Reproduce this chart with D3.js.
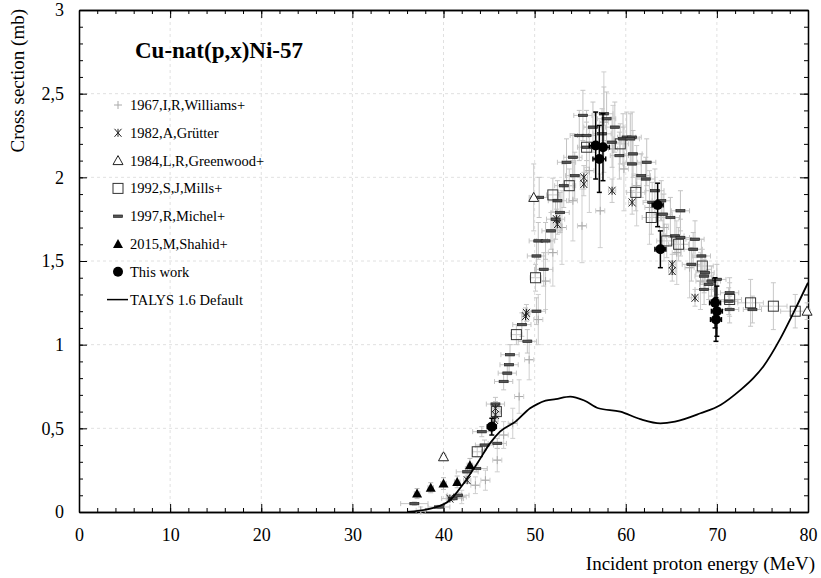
<!DOCTYPE html>
<html><head><meta charset="utf-8">
<script src="https://cdn.jsdelivr.net/npm/d3@7"></script>
<style>body{margin:0;background:#fff}svg{display:block}text{font-family:"Liberation Serif","Times New Roman",serif}</style>
</head><body><svg id="c" width="821" height="578"></svg>
<script>
// ---------- DATA ----------
const xTicks = [0,10,20,30,40,50,60,70,80];
const yTicks = [0,0.5,1,1.5,2,2.5,3];
const legendLabels = ["1967,I,R,Williams+","1982,A,Grütter","1984,L,R,Greenwood+","1992,S,J,Mills+","1997,R,Michel+","2015,M,Shahid+","This work","TALYS 1.6 Default"];
// TALYS curve
const talysE = [36,38.9,40.7,42.2,43.7,45.1,46.2,47.9,49.5,50.3,51.2,52.3,53.9,55.5,57,59.4,61.6,63.8,65.4,68.2,70.4,72.6,74,75.1,76.9,78.4,80];
const talysV = [0,0.024,0.07,0.17,0.29,0.41,0.48,0.54,0.62,0.645,0.665,0.675,0.69,0.665,0.62,0.60,0.555,0.53,0.54,0.59,0.64,0.73,0.80,0.87,1.03,1.19,1.37];
// [E, sigma, dE, dSigma]
const williams = [[37.5,0.01,0.5,0.02],[42.0,0.09,0.5,0.04],[43.5,0.16,0.5,0.05],[44.6,0.19,0.5,0.06],[45.9,0.31,0.5,0.07],[46.6,0.46,0.5,0.08],[47.6,0.53,0.5,0.09],[48.3,0.69,0.5,0.1],[49.4,0.91,0.5,0.12],[50.4,1.15,0.5,0.15],[51.2,1.38,0.5,0.17],[52.0,1.55,0.5,0.2],[53.0,1.70,0.5,0.22],[54.2,1.86,0.5,0.24],[55.2,1.71,0.5,0.22],[56.0,2.04,0.5,0.25],[57.2,1.80,0.5,0.22],[57.6,2.33,0.5,0.3],[58.6,2.17,0.5,0.26],[59.8,2.05,0.5,0.25],[61.2,1.95,0.5,0.24],[62.6,1.82,0.5,0.22],[64.2,1.70,0.5,0.2],[65.6,1.55,0.5,0.19],[67.0,1.46,0.5,0.18],[68.2,1.38,0.5,0.17]];
const grutter = [[40.7,0.08,0.4,0.01],[42.6,0.19,0.4,0.02],[45.6,0.55,0.4,0.04],[45.7,0.58,0.4,0.04],[45.7,0.62,0.4,0.04],[49.0,1.17,0.4,0.05],[49.1,1.19,0.4,0.05],[52.4,1.75,0.4,0.06],[52.5,1.72,0.4,0.06],[55.4,1.96,0.4,0.07],[55.4,2.00,0.4,0.07],[58.5,1.92,0.4,0.07],[60.7,1.85,0.4,0.07],[65.1,1.44,0.4,0.06],[65.1,1.48,0.4,0.06],[67.6,1.28,0.4,0.05]];
const greenwood = [[40.0,0.33,0.3,0.02],[49.9,1.88,0.5,0.2],[79.9,1.20,0.3,0.05]];
const mills = [[43.7,0.36,0.5,0.03],[45.8,0.60,0.5,0.04],[48.0,1.06,0.6,0.06],[50.1,1.40,0.6,0.08],[52.0,1.895,0.7,0.1],[53.8,1.95,0.7,0.1],[55.7,2.18,0.8,0.12],[59.4,2.20,0.9,0.12],[61.1,1.91,1.0,0.11],[62.8,1.76,1.0,0.1],[64.5,1.62,1.1,0.1],[65.8,1.60,1.1,0.1],[68.4,1.47,1.2,0.1],[71.4,1.27,1.3,0.1],[73.7,1.25,1.4,0.14],[76.2,1.23,1.5,0.14],[78.6,1.20,1.6,0.1]];
const michel = [[36.8,0.05,1.5,0.01],[39.5,0.03,1.2,0.01],[41.0,0.08,1.2,0.01],[41.6,0.10,1.2,0.015],[42.6,0.24,1.2,0.02],[43.6,0.26,1.2,0.02],[44.2,0.48,1.0,0.03],[44.5,0.40,1.0,0.03],[45.9,0.41,1.0,0.03],[45.7,0.645,1.0,0.04],[46.6,0.78,1.0,0.05],[47.0,0.83,1.0,0.05],[47.2,0.88,1.0,0.06],[47.3,0.94,1.0,0.06],[48.6,1.12,1.0,0.07],[49.2,1.02,1.0,0.07],[50.2,1.20,1.0,0.08],[51.0,1.45,1.0,0.1],[50.2,1.53,1.0,0.1],[50.4,1.62,1.0,0.11],[51.2,1.62,1.0,0.11],[51.8,1.68,1.0,0.11],[52.3,1.75,1.0,0.12],[52.8,1.79,1.0,0.12],[53.2,1.95,1.0,0.13],[50.5,1.88,1.0,0.12],[52.5,1.86,1.0,0.12],[53.5,2.09,1.0,0.14],[54.2,2.12,1.0,0.14],[54.4,2.01,1.0,0.14],[55.3,2.37,1.0,0.15],[54.9,2.25,1.0,0.15],[55.7,2.25,1.0,0.15],[55.7,2.18,1.0,0.15],[56.4,2.30,1.0,0.15],[57.6,2.38,1.0,0.16],[57.9,2.35,1.0,0.16],[58.8,2.30,1.0,0.15],[60.1,2.24,1.0,0.15],[60.7,2.24,1.0,0.15],[57.4,2.26,1.0,0.15],[58.5,2.21,1.0,0.15],[59.7,2.23,1.0,0.15],[60.5,2.23,1.0,0.15],[60.8,2.14,1.0,0.14],[59.3,2.13,1.0,0.14],[60.7,2.08,1.0,0.14],[62.3,2.09,1.0,0.14],[61.7,2.01,1.0,0.13],[62.2,1.99,1.0,0.13],[63.2,1.92,1.0,0.13],[63.9,1.86,1.0,0.12],[62.9,1.85,1.0,0.12],[64.1,1.78,1.0,0.12],[64.9,1.76,1.0,0.12],[66.0,1.80,1.0,0.12],[65.4,1.65,1.0,0.11],[66.0,1.64,1.0,0.11],[67.6,1.63,1.0,0.11],[67.4,1.57,1.0,0.1],[68.3,1.53,1.0,0.1],[67.2,1.48,1.0,0.1],[68.6,1.41,1.0,0.1],[68.7,1.43,1.0,0.1],[69.4,1.38,1.0,0.09],[70.0,1.39,1.0,0.09],[69.1,1.36,1.0,0.09],[68.6,1.33,1.0,0.09],[71.4,1.31,1.0,0.09],[71.4,1.21,1.0,0.08],[71.3,1.26,1.0,0.08],[73.9,1.21,1.0,0.08]];
const shahid = [[37.1,0.11,0.3,0.03],[38.6,0.145,0.3,0.03],[40.0,0.17,0.3,0.035],[41.5,0.18,0.3,0.035],[42.9,0.28,0.3,0.04]];
const thisWork = [[45.3,0.51,0.5,0.05],[56.7,2.19,0.7,0.2],[57.5,2.18,0.7,0.2],[57.1,2.11,0.7,0.2],[63.5,1.835,0.6,0.13],[63.8,1.57,0.6,0.11],[69.8,1.25,0.6,0.15],[70.0,1.20,0.6,0.15],[69.9,1.15,0.6,0.13]];

// ---------- CHART ----------
const svg = d3.select("#c");
const L=79,R=808,T=10,B=512;
const x = d3.scaleLinear().domain([0,80]).range([L,R]);
const y = d3.scaleLinear().domain([0,3]).range([B,T]);
const fmt = d => String(d).replace('.',',');

// grid
const grid = svg.append("g").attr("stroke","#d8d8d8").attr("stroke-dasharray","3,3").attr("stroke-width",0.8);
xTicks.slice(1,-1).forEach(t=>grid.append("line").attr("x1",x(t)).attr("x2",x(t)).attr("y1",T).attr("y2",B));
yTicks.slice(1,-1).forEach(t=>grid.append("line").attr("y1",y(t)).attr("y2",y(t)).attr("x1",L).attr("x2",R));

// axes
function styleAxis(g){g.selectAll("path").attr("stroke","#000").attr("stroke-width",1.3);g.selectAll("line").attr("stroke","#000");g.selectAll("text").attr("font-family","Liberation Serif").attr("font-size",18).attr("fill","#000");}
const xMinor = d3.range(0,81,2), yMinor = d3.range(0,3.001,0.1).map(v=>+v.toFixed(1));
svg.append("g").attr("transform",`translate(0,${B})`).call(d3.axisBottom(x).tickValues(xMinor).tickSize(-4).tickFormat("").tickSizeOuter(0)).call(styleAxis);
svg.append("g").attr("transform",`translate(0,${B})`).call(d3.axisBottom(x).tickValues(xTicks).tickSize(-8).tickPadding(16).tickFormat(fmt).tickSizeOuter(0)).call(styleAxis);
svg.append("g").attr("transform",`translate(0,${T})`).call(d3.axisTop(x).tickValues(xMinor).tickSize(-4).tickFormat("").tickSizeOuter(0)).call(styleAxis);
svg.append("g").attr("transform",`translate(0,${T})`).call(d3.axisTop(x).tickValues(xTicks).tickSize(-8).tickFormat("").tickSizeOuter(0)).call(styleAxis);
svg.append("g").attr("transform",`translate(${L},0)`).call(d3.axisLeft(y).tickValues(yMinor).tickSize(-4).tickFormat("").tickSizeOuter(0)).call(styleAxis);
svg.append("g").attr("transform",`translate(${L},0)`).call(d3.axisLeft(y).tickValues(yTicks).tickSize(-8).tickPadding(15).tickFormat(fmt).tickSizeOuter(0)).call(styleAxis);
svg.append("g").attr("transform",`translate(${R},0)`).call(d3.axisRight(y).tickValues(yMinor).tickSize(-4).tickFormat("").tickSizeOuter(0)).call(styleAxis);
svg.append("g").attr("transform",`translate(${R},0)`).call(d3.axisRight(y).tickValues(yTicks).tickSize(-8).tickFormat("").tickSizeOuter(0)).call(styleAxis);

// axis titles
svg.append("text").attr("x",815).attr("y",570).attr("text-anchor","end").attr("font-size",19).text("Incident proton energy (MeV)");
svg.append("text").attr("transform","translate(24,9) rotate(-90)").attr("text-anchor","end").attr("font-size",19).text("Cross section (mb)");
svg.append("text").attr("x",135).attr("y",58).attr("font-size",23).attr("font-weight","bold").text("Cu-nat(p,x)Ni-57");

// error bars
function errBars(data,color,width){
  const g = svg.append("g").attr("stroke",color).attr("stroke-width",width).attr("fill","none");
  data.forEach(d=>{
    const cx=x(d[0]), cy=y(d[1]);
    const x0=x(d[0]-d[2]), x1=x(d[0]+d[2]), y0=y(d[1]-d[3]), y1=y(d[1]+d[3]);
    g.append("line").attr("x1",x0).attr("x2",x1).attr("y1",cy).attr("y2",cy);
    g.append("line").attr("x1",cx).attr("x2",cx).attr("y1",y0).attr("y2",y1);
    g.append("line").attr("x1",x0).attr("x2",x0).attr("y1",cy-2.5).attr("y2",cy+2.5);
    g.append("line").attr("x1",x1).attr("x2",x1).attr("y1",cy-2.5).attr("y2",cy+2.5);
    g.append("line").attr("x1",cx-2.5).attr("x2",cx+2.5).attr("y1",y0).attr("y2",y0);
    g.append("line").attr("x1",cx-2.5).attr("x2",cx+2.5).attr("y1",y1).attr("y2",y1);
  });
}
errBars(williams,"#cfcfcf",1);
errBars(michel,"#c4c4c4",1);
errBars(mills,"#c8c8c8",1);
errBars(grutter,"#c8c8c8",1);
errBars(greenwood,"#c8c8c8",1);
errBars(shahid,"#bbbbbb",1);

// marker drawers
const mk = {
  plus:(g,cx,cy)=>g.append("path").attr("d",`M${cx-4},${cy}H${cx+4}M${cx},${cy-4}V${cy+4}`).attr("stroke","#aaa").attr("stroke-width",1).attr("fill","none"),
  aster:(g,cx,cy)=>g.append("path").attr("d",`M${cx-3.5},${cy-4}L${cx+3.5},${cy+4}M${cx+3.5},${cy-4}L${cx-3.5},${cy+4}M${cx},${cy-4}V${cy+4}`).attr("stroke","#222").attr("stroke-width",1).attr("fill","none"),
  tri:(g,cx,cy)=>g.append("path").attr("d",`M${cx},${cy-5}L${cx+5},${cy+4}L${cx-5},${cy+4}Z`).attr("stroke","#222").attr("stroke-width",1).attr("fill","#fff"),
  sq:(g,cx,cy)=>g.append("rect").attr("x",cx-5).attr("y",cy-5).attr("width",10).attr("height",10).attr("stroke","#333").attr("stroke-width",1).attr("fill","none"),
  dash:(g,cx,cy)=>g.append("rect").attr("x",cx-4.5).attr("y",cy-1.2).attr("width",9).attr("height",2.4).attr("stroke","#222").attr("stroke-width",0.7).attr("fill","#555"),
  ftri:(g,cx,cy)=>g.append("path").attr("d",`M${cx},${cy-5}L${cx+5},${cy+4}L${cx-5},${cy+4}Z`).attr("fill","#000"),
  circ:(g,cx,cy)=>g.append("circle").attr("cx",cx).attr("cy",cy).attr("r",5).attr("fill","#000")
};
function markers(data,kind){const g=svg.append("g");data.forEach(d=>mk[kind](g,x(d[0]),y(d[1])));}
markers(williams,"plus");
markers(michel,"dash");
markers(mills,"sq");
markers(grutter,"aster");
markers(greenwood,"tri");
markers(shahid,"ftri");

// TALYS curve
svg.append("path").datum(d3.zip(talysE,talysV))
  .attr("d",d3.line().x(d=>x(d[0])).y(d=>y(d[1])).curve(d3.curveMonotoneX))
  .attr("fill","none").attr("stroke","#000").attr("stroke-width",1.8);

// this work
errBars(thisWork,"#000",1.5);
markers(thisWork,"circ");

// legend
const kinds=["plus","aster","tri","sq","dash","ftri","circ","line"];
const lg = svg.append("g");
legendLabels.forEach((lab,i)=>{
  const yy = 105 + i*27.8;
  if(kinds[i]==="line") lg.append("line").attr("x1",107).attr("x2",128).attr("y1",yy).attr("y2",yy).attr("stroke","#000").attr("stroke-width",1.5);
  else mk[kinds[i]](lg,118,yy);
  lg.append("text").attr("x",130).attr("y",yy+5).attr("font-size",14.5).text(lab);
});
</script></body></html>
